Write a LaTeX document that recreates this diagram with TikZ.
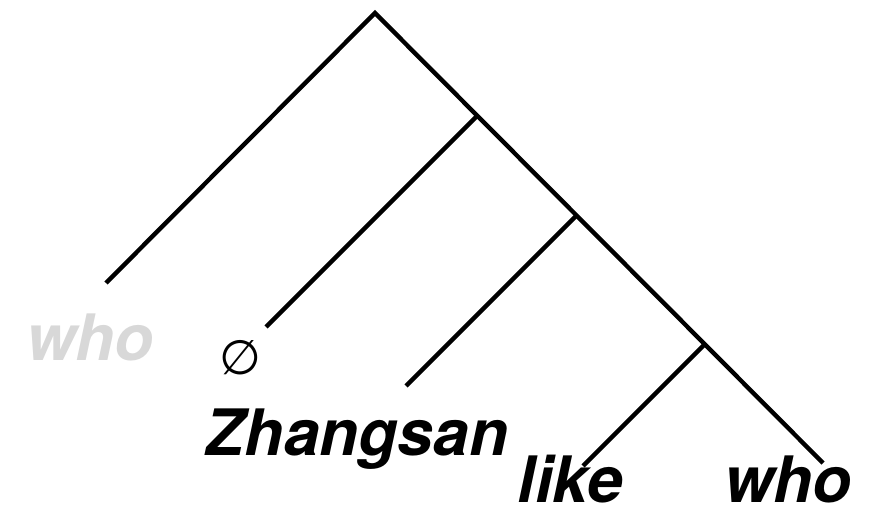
\documentclass[tikz,border=0pt]{standalone}
\usepackage{fontspec}
\setmainfont{TeX Gyre Heros}
\newfontfamily\symfont{DejaVu Sans}
\usepackage{xcolor}
\usetikzlibrary{positioning}
\definecolor{tLine}{RGB}{0,0,0}
\definecolor{tGhost}{RGB}{216,216,216}
\tikzset{
  branch/.style={draw=tLine, line width=4.4pt},
  word/.style={anchor=base, inner sep=0pt, font=\fontsize{64}{64}\selectfont\bfseries\itshape},
  ghost/.style={word, text=tGhost},
  nul/.style={inner sep=0pt, font=\fontsize{48}{48}\selectfont\symfont},
}

\begin{document}
\begin{tikzpicture}[x=1pt, y=-1pt]
  \useasboundingbox (0,0) rectangle (873,513);
  % nodes of the tree
  \coordinate (root) at (375,13);
  \coordinate (j1)   at (477.5,115.5);
  \coordinate (j2)   at (577,215);
  \coordinate (j3)   at (705.5,343.5);
  \coordinate (lwho) at (106,283);
  \coordinate (lnul) at (266,327);
  \coordinate (lzs)  at (406,386);
  \coordinate (llk)  at (583,466);
  \coordinate (rwho) at (823,463);
  % branches
  \draw[branch] (lwho) -- (root) -- (rwho);
  \draw[branch] (lnul) -- (j1);
  \draw[branch] (lzs) -- (j2);
  \draw[branch] (llk) -- (j3);
  % leaves
  \node[ghost] (who1) at (90,360) {who};
  \node[nul]   (zero) at (240,358) {∅};
  \node[word]  (zs)   at (357,455) {Zhangsan};
  \node[word]  (like) at (570,502) {like};
  \node[word]  (who2) at (788,502) {who};
\end{tikzpicture}
\end{document}
